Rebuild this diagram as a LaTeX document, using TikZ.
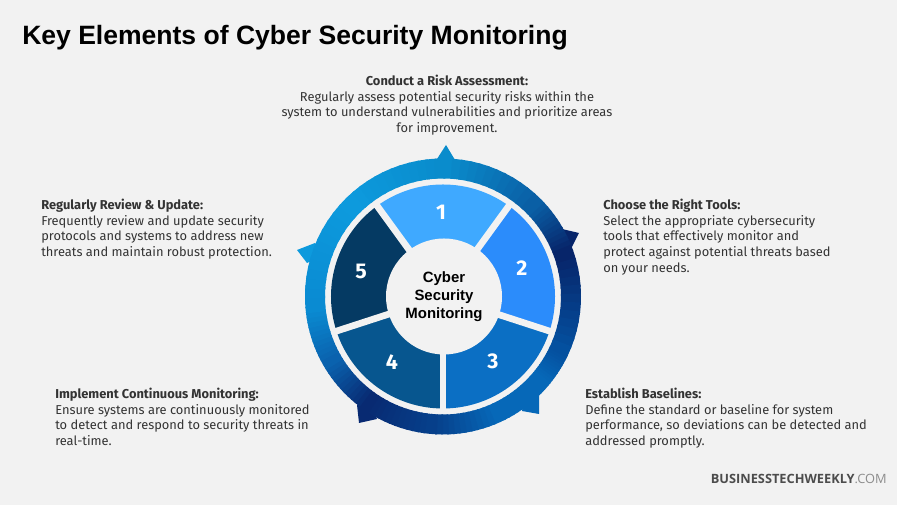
\documentclass[tikz,border=0pt]{standalone}
\usepackage{fontspec}
\setmainfont{Fira Sans}
\newfontfamily\titlefont{Liberation Sans}
\newfontfamily\markfont{Open Sans}
\definecolor{pagebg}{HTML}{F2F2F2}
\definecolor{ringa}{HTML}{0A8CCC}
\definecolor{ringb}{HTML}{0A5FA5}
\definecolor{ringc}{HTML}{07256A}
\definecolor{ringd}{HTML}{04509F}
\definecolor{ringe}{HTML}{0668B8}
\definecolor{ringf}{HTML}{063F8A}
\definecolor{ringg}{HTML}{082A72}
\definecolor{ringh}{HTML}{0A62AE}
\definecolor{ringi}{HTML}{0A8BD2}
\definecolor{ringj}{HTML}{0D9ADD}
\definecolor{sega}{HTML}{3FA9FF}
\definecolor{segb}{HTML}{2B8CFB}
\definecolor{segc}{HTML}{0B6FC4}
\definecolor{segd}{HTML}{07568F}
\definecolor{sege}{HTML}{053A63}
\definecolor{bodygray}{HTML}{333333}
\usetikzlibrary{positioning}

\begin{document}
\begin{tikzpicture}
  [x=0.75pt,y=0.75pt,
   infotext/.style={anchor=north west, inner sep=0pt, align=left, text=bodygray, font=\fontsize{9.65}{11.7}\selectfont},
   numlabel/.style={text=white, inner sep=0pt, font=\fontsize{16}{18}\selectfont\bfseries}]
  \fill[pagebg] (0,0) rectangle (897,505);

  \fill[ringa] (446,360) -- (455,345) -- (445,330) -- (437,346) -- cycle;
  \fill[ringc] (579,272) -- (562,276) -- (555,260) -- (572,258) -- cycle;
  \fill[ringj] (297,255) -- (315,262) -- (325,250) -- (307,242) -- cycle;
  \fill[ringg] (359,82) -- (357,100) -- (372,100) -- (377,86) -- cycle;
  \fill[ringe] (539,91) -- (522,94) -- (525,110) -- (539,110) -- cycle;

  \begin{scope}[shift={(443,208.5)}]
    \foreach \from/\to/\ca/\cb in {90/45/ringa/ringb, 45/20/ringb/ringc, 20/-25/ringc/ringd, -25/-40/ringd/ringe,
      -40/-65/ringe/ringe, -65/-95/ringe/ringf, -95/-125/ringf/ringg, -125/-150/ringg/ringh, -150/-175/ringh/ringi,
      -175/-225/ringi/ringj, -225/-270/ringj/ringa}
    {
      \foreach \s in {0,...,11}
      {
        \pgfmathsetmacro\angA{\from+(\to-\from)*\s/12}
        \pgfmathsetmacro\angB{\from+(\to-\from)*(\s+1.3)/12}
        \pgfmathsetmacro\pct{100-100*\s/11}
        \fill[\ca!\pct!\cb] (\angA:138) arc[start angle=\angA,end angle=\angB,radius=138]
          -- (\angB:118) arc[start angle=\angB,end angle=\angA,radius=118] -- cycle;
      }
    }
    \foreach \from/\to/\col in {126/54/sega, 54/-18/segb, -18/-90/segc, -90/-162/segd, -162/-234/sege}
      \fill[\col] (0,0) -- (\from:112) arc[start angle=\from,end angle=\to,radius=112] -- cycle;
    \foreach \ang in {54,-18,-90,-162,126}
      \draw[pagebg, line width=5pt] (0,0) -- (\ang:115);
    \node[circle, fill=pagebg, minimum size=87pt, inner sep=0pt, align=center,
      font=\fontsize{11.2}{13.3}\selectfont\bfseries\titlefont] (hub) at (1,0) {Cyber\\Security\\Monitoring};
  \end{scope}

  \node[numlabel] (n1) at (441,293) {1};
  \node[numlabel] (n2) at (522,237) {2};
  \node[numlabel] (n3) at (493,144) {3};
  \node[numlabel] (n4) at (392,143) {4};
  \node[numlabel] (n5) at (361,234) {5};

  \node[anchor=base west, inner sep=0pt, font=\fontsize{19.9}{24}\selectfont\bfseries\titlefont] (title) at (22,460)
    {Key Elements of Cyber Security Monitoring};

  \node[infotext, anchor=north, align=center] (risk) at (447,430)
    {{\bfseries Conduct a Risk Assessment:}\\Regularly assess potential security risks within the\\system to understand vulnerabilities and prioritize areas\\for improvement.};
  \node[infotext] (tools) at (603,306)
    {{\bfseries Choose the Right Tools:}\\Select the appropriate cybersecurity\\tools that effectively monitor and\\protect against potential threats based\\on your needs.};
  \node[infotext] (base) at (585,117)
    {{\bfseries Establish Baselines:}\\Define the standard or baseline for system\\performance, so deviations can be detected and\\addressed promptly.};
  \node[infotext] (cont) at (55,117)
    {{\bfseries Implement Continuous Monitoring:}\\Ensure systems are continuously monitored\\to detect and respond to security threats in\\real-time.};
  \node[infotext] (review) at (41,306)
    {{\bfseries Regularly Review \& Update:}\\Frequently review and update security\\protocols and systems to address new\\threats and maintain robust protection.};

  \node[anchor=base east, inner sep=0pt, text=black!70, font=\fontsize{9.6}{11}\selectfont\markfont] (mark) at (887,21)
    {{\bfseries BUSINESSTECHWEEKLY}\textcolor{black!45}{.COM}};
\end{tikzpicture}
\end{document}
